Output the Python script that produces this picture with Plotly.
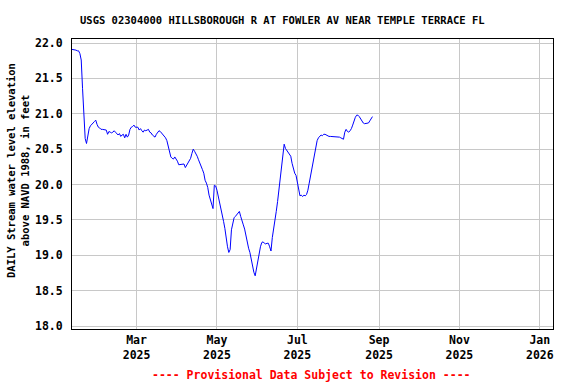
import plotly.graph_objects as go
import pandas as pd

# Daily stream water level elevation, ft (NAVD 1988), starting 2025-01-11
start_date = "2025-01-11"
values = [
    21.91, 21.91, 21.90, 21.90, 21.89, 21.89, 21.85, 21.76, 21.36, 20.90,
    20.65, 20.58, 20.70, 20.79, 20.83, 20.86, 20.87, 20.89, 20.91, 20.85,
    20.81, 20.80, 20.78, 20.78, 20.78, 20.77, 20.77, 20.71, 20.75, 20.74,
    20.73, 20.74, 20.76, 20.74, 20.72, 20.70, 20.72, 20.68, 20.70, 20.71,
    20.66, 20.71, 20.67, 20.70, 20.78, 20.81, 20.82, 20.84, 20.81,
    # Mar 1
    20.81, 20.81, 20.77, 20.79, 20.76, 20.74, 20.77, 20.76, 20.77, 20.78,
    20.74, 20.73, 20.70, 20.69, 20.67, 20.71, 20.74, 20.76, 20.75, 20.73,
    20.71, 20.68, 20.66, 20.62, 20.53, 20.44, 20.39, 20.37, 20.36, 20.39,
    20.36, 20.33, 20.28, 20.28, 20.28, 20.29, 20.29, 20.24, 20.27, 20.30,
    20.34, 20.37, 20.44, 20.50, 20.47, 20.44, 20.40, 20.35, 20.31, 20.25,
    20.21, 20.16, 20.06, 20.02, 19.96, 19.85, 19.78, 19.73, 19.66, 19.99,
    19.98,
    # May 1
    19.92, 19.84, 19.72, 19.64, 19.58, 19.48, 19.38, 19.24, 19.12, 19.04,
    19.08, 19.36, 19.45, 19.53, 19.55, 19.57, 19.60, 19.62, 19.55, 19.47,
    19.43, 19.37, 19.27, 19.17, 19.10, 19.04, 18.94, 18.84, 18.76, 18.71,
    18.82, 18.93, 19.03, 19.12, 19.18, 19.19, 19.17, 19.16, 19.17, 19.17,
    19.12, 19.06, 19.25, 19.36, 19.48, 19.62, 19.76, 19.92, 20.09, 20.25,
    20.42, 20.57, 20.51, 20.48, 20.47, 20.44, 20.40, 20.30, 20.22, 20.16,
    20.13,
    # Jul 1
    20.02, 19.90, 19.84, 19.85, 19.83, 19.85, 19.84, 19.86, 19.92, 20.02,
    20.12, 20.24, 20.36, 20.43, 20.52, 20.62, 20.66, 20.68, 20.70, 20.69,
    20.71, 20.71, 20.70, 20.68, 20.68, 20.68, 20.68, 20.68, 20.67, 20.67,
    20.67, 20.67, 20.67, 20.66, 20.65, 20.64, 20.74, 20.78, 20.75, 20.74,
    20.76, 20.79, 20.84, 20.90, 20.95, 20.98, 20.98, 20.96, 20.93, 20.89,
    20.87, 20.86, 20.86, 20.86, 20.87, 20.90, 20.94, 20.96,
]
dates = pd.date_range(start_date, periods=len(values), freq="D")

tick_dates = ["2025-03-01", "2025-05-01", "2025-07-01", "2025-09-01", "2025-11-01", "2026-01-01"]
tick_labels = ["Mar<br>2025", "May<br>2025", "Jul<br>2025", "Sep<br>2025", "Nov<br>2025", "Jan<br>2026"]
y_ticks = [18.0, 18.5, 19.0, 19.5, 20.0, 20.5, 21.0, 21.5, 22.0]
y_labels = ["18.0", "18.5", "19.0", "19.5", "20.0", "20.5", "21.0", "21.5", "22.0"]

title_text = "USGS 02304000 HILLSBOROUGH R AT FOWLER AV NEAR TEMPLE TERRACE FL"
ytitle_text = "DAILY Stream water level elevation<br>above NAVD 1988, in feet"
footer_text = "---- Provisional Data Subject to Revision ----"

FONT = "DejaVu Sans Mono"

fig = go.Figure()
fig.add_trace(go.Scatter(x=dates, y=values, mode="lines",
                         line=dict(color="#0000ff", width=1), hoverinfo="skip"))

fig.update_layout(
    width=576, height=384,
    margin=dict(l=72, r=23, t=39, b=55),
    paper_bgcolor="white", plot_bgcolor="white",
    showlegend=False,
    font=dict(family=FONT, size=11, color="black", weight="bold"),
)
fig.update_xaxes(
    range=["2025-01-11", "2026-01-11"],
    tickvals=tick_dates, ticktext=tick_labels,
    showgrid=True, gridcolor="#c8c8c8", gridwidth=1,
    showline=True, linecolor="black", linewidth=1, mirror=True,
    ticks="", zeroline=False, automargin=False,
    tickfont=dict(family=FONT, size=11.5, color="black", weight="bold"),
)
fig.update_yaxes(
    range=[17.958, 22.057],
    tickvals=y_ticks, ticktext=y_labels,
    showgrid=True, gridcolor="#c8c8c8", gridwidth=1,
    showline=True, linecolor="black", linewidth=1, mirror=True,
    ticks="", zeroline=False, ticklabelstandoff=6, automargin=False,
    tickfont=dict(family=FONT, size=11.5, color="black", weight="bold"),
)

fig.add_annotation(text=title_text, xref="paper", yref="paper",
                   x=(282.5 - 72) / 481, y=(329 - 20) / 290,
                   xanchor="center", yanchor="middle", showarrow=False,
                   font=dict(family=FONT, size=10.5, color="black", weight="bold"))
fig.add_annotation(text=ytitle_text, xref="paper", yref="paper",
                   x=(18 - 72) / 481, y=(329 - 171) / 290, textangle=-90,
                   xanchor="center", yanchor="middle", showarrow=False,
                   font=dict(family=FONT, size=10.5, color="black", weight="bold"))
fig.add_annotation(text=footer_text, xref="paper", yref="paper",
                   x=(311.4 - 72) / 481, y=(329 - 375) / 290,
                   xanchor="center", yanchor="middle", showarrow=False,
                   font=dict(family=FONT, size=11.5, color="#ff0000", weight="bold"))

fig.write_html("out.html", config={"displayModeBar": False},
               post_script="document.body.style.margin='0';")
